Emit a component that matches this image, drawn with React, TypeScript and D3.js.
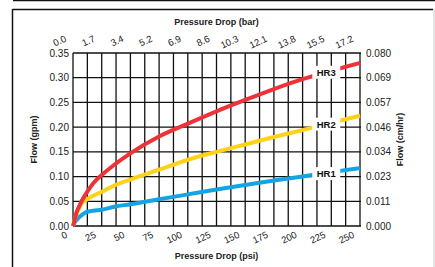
import React, { useRef, useEffect } from "react";
import * as d3 from "d3";

// pressure drop (psi) and flow (gpm)
const psi = [0, 1.5, 3, 5, 7.5, 11.5, 17.5, 25, 36, 50, 75, 100, 125, 150, 175, 200, 225, 250];
const hr3 = [0, 0.012, 0.027, 0.038, 0.05, 0.066, 0.086, 0.103, 0.124, 0.147, 0.181, 0.207, 0.232, 0.255, 0.277, 0.297, 0.314, 0.33];
const hr2 = [0, 0.013, 0.024, 0.034, 0.045, 0.053, 0.061, 0.069, 0.082, 0.094, 0.114, 0.134, 0.15, 0.165, 0.18, 0.194, 0.209, 0.223];
const hr1 = [0, 0.007, 0.012, 0.017, 0.022, 0.028, 0.031, 0.033, 0.039, 0.044, 0.054, 0.064, 0.074, 0.083, 0.092, 0.1, 0.109, 0.117];

const psiTicks = [0, 25, 50, 75, 100, 125, 150, 175, 200, 225, 250];
const barTicks = ["0.0", "1.7", "3.4", "5.2", "6.9", "8.6", "10.3", "12.1", "13.8", "15.5", "17.2"];
const gpmTicks = [0, 0.05, 0.1, 0.15, 0.2, 0.25, 0.3, 0.35];
const cmTicks = ["0.000", "0.011", "0.023", "0.034", "0.046", "0.057", "0.069", "0.080"];

const series = [
  { name: "HR3", values: hr3, color: "#ee3338", labelAt: 218 },
  { name: "HR2", values: hr2, color: "#ffd21a", labelAt: 218 },
  { name: "HR1", values: hr1, color: "#12a5e3", labelAt: 218 },
];

const W = 435;
const H = 267;
const FONT = "'Liberation Sans', Arial, Helvetica, sans-serif";

const App = () => {
  const svgRef = useRef<SVGSVGElement>(null);

  useEffect(() => {
    const svg = d3.select(svgRef.current);
    svg.selectAll("*").remove();

    const left = 73, right = 360, top = 53, bottom = 226;

    const x = d3.scaleLinear().domain([0, 250]).range([left, right]);
    const y = d3.scaleLinear().domain([0, 0.35]).range([bottom, top]);

    // outer frame
    svg.append("line").attr("x1", 13).attr("x2", W).attr("y1", 0.5).attr("y2", 0.5)
      .attr("stroke", "#111").attr("stroke-width", 1.5);
    svg.append("line").attr("x1", 12.5).attr("x2", 433).attr("y1", 9.5).attr("y2", 9.5)
      .attr("stroke", "#111").attr("stroke-width", 1.5);
    svg.append("line").attr("x1", 12.5).attr("x2", 12.5).attr("y1", 9).attr("y2", H)
      .attr("stroke", "#111").attr("stroke-width", 1.5);
    svg.append("line").attr("x1", 434).attr("x2", 434).attr("y1", 9).attr("y2", H)
      .attr("stroke", "#c8c8c8").attr("stroke-width", 1);

    const g = svg.append("g");

    // grid
    const vx = d3.range(0, 250.1, 12.5);
    g.selectAll(".vg").data(vx).enter().append("line")
      .attr("x1", (d) => x(d)).attr("x2", (d) => x(d))
      .attr("y1", top).attr("y2", bottom)
      .attr("stroke", "#111").attr("stroke-width", 1.3);
    g.selectAll(".hg").data(gpmTicks).enter().append("line")
      .attr("x1", left).attr("x2", right + 1)
      .attr("y1", (d) => y(d)).attr("y2", (d) => y(d))
      .attr("stroke", "#111").attr("stroke-width", 1.3);

    // curves
    const line = d3.line<number>()
      .x((_, i) => x(psi[i]))
      .y((d) => y(d))
      .curve(d3.curveMonotoneX);

    series.slice().reverse().forEach((s) => {
      g.append("path")
        .datum(s.values)
        .attr("fill", "none")
        .attr("stroke", s.color)
        .attr("stroke-width", 4)
        .attr("d", line);
    });

    // curve labels with white boxes
    series.forEach((s) => {
      const i = psi.indexOf(225);
      const cy = y(s.values[i]) + 2;
      const cx = x(s.labelAt) + 3;
      g.append("rect")
        .attr("x", cx - 14).attr("y", cy - 7)
        .attr("width", 28).attr("height", 13)
        .attr("fill", "#fff");
      g.append("text")
        .attr("x", cx).attr("y", cy).attr("dy", "0.35em")
        .attr("text-anchor", "middle")
        .attr("font-family", FONT).attr("font-weight", "bold").attr("font-size", 9.5)
        .attr("fill", "#111")
        .text(s.name);
    });

    // left tick labels
    g.selectAll(".yl").data(gpmTicks).enter().append("text")
      .attr("x", left - 4).attr("y", (d) => y(d)).attr("dy", "0.35em")
      .attr("text-anchor", "end")
      .attr("font-family", FONT).attr("font-size", 10).attr("fill", "#222")
      .text((d) => d3.format(".2f")(d));

    // right tick labels
    g.selectAll(".yr").data(gpmTicks).enter().append("text")
      .attr("x", right + 6).attr("y", (d) => y(d)).attr("dy", "0.35em")
      .attr("text-anchor", "start")
      .attr("font-family", FONT).attr("font-size", 10).attr("fill", "#222")
      .text((_, i) => cmTicks[i]);

    // bottom psi labels
    g.selectAll(".xb").data(psiTicks).enter().append("text")
      .attr("transform", (d) => `translate(${x(d) - 5},${bottom + 11}) rotate(-25)`)
      .attr("text-anchor", "end")
      .attr("font-family", FONT).attr("font-size", 9.5).attr("fill", "#222")
      .text((d) => d);

    // top bar labels
    g.selectAll(".xt").data(psiTicks).enter().append("text")
      .attr("transform", (d) => `translate(${x(d) - 6},${top - 12}) rotate(-25)`)
      .attr("text-anchor", "end")
      .attr("font-family", FONT).attr("font-size", 9.5).attr("fill", "#222")
      .text((_, i) => barTicks[i]);

    // axis titles
    const title = (t: string, tx: number, ty: number, rot: number) =>
      svg.append("text")
        .attr("transform", `translate(${tx},${ty}) rotate(${rot})`)
        .attr("text-anchor", "middle")
        .attr("font-family", FONT).attr("font-weight", "bold").attr("font-size", 9)
        .attr("fill", "#222")
        .text(t);

    title("Pressure Drop (bar)", (left + right) / 2, 25, 0);
    title("Pressure Drop (psi)", (left + right) / 2, 259, 0);
    title("Flow (gpm)", 37, (top + bottom) / 2, -90);
    title("Flow (cm/hr)", 403, (top + bottom) / 2, -90);
  }, []);

  return (
    <svg
      ref={svgRef}
      width={W}
      height={H}
      style={{ position: "absolute", left: 0, top: 0, background: "#fff" }}
    />
  );
};

export default App;
